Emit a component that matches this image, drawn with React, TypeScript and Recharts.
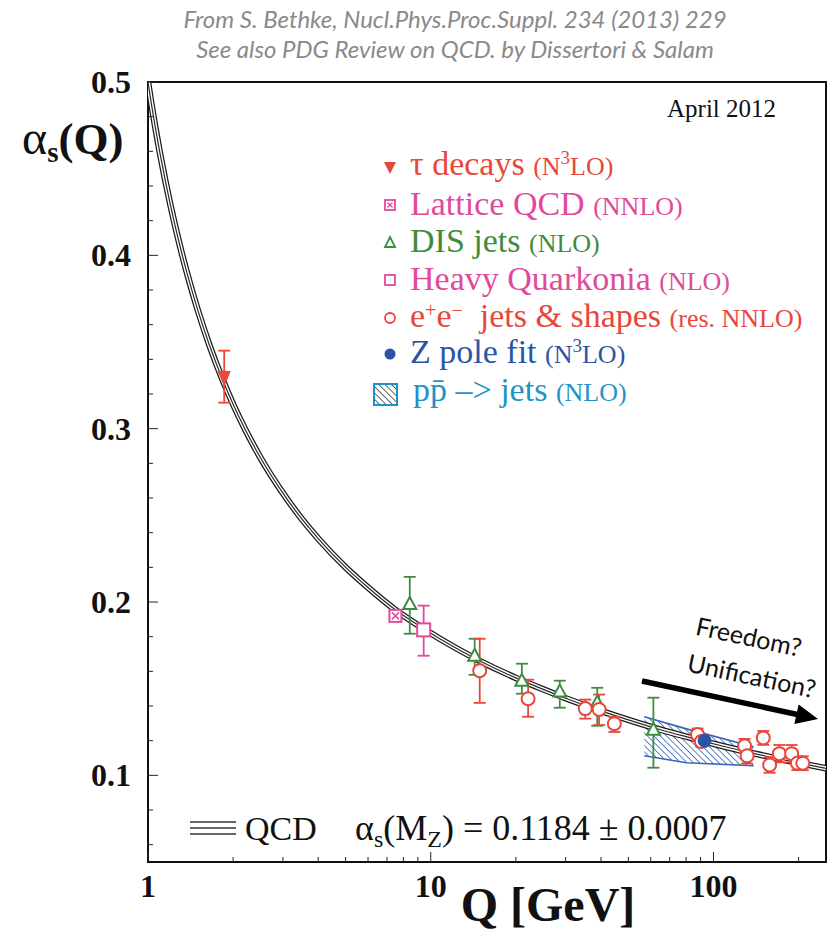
import React from 'react';
import { ComposedChart, Line, Scatter, Area, XAxis, YAxis, ErrorBar, ReferenceArea } from 'recharts';

// ---------- data ----------
const curveQ = [1.0, 1.03, 1.06, 1.1, 1.15, 1.2, 1.3, 1.4, 1.5, 1.65, 1.83, 2.0, 2.2, 2.5, 3, 3.5, 4, 5, 6, 7.5, 9.5, 12, 15, 20, 25, 30, 40, 50, 65, 80, 91, 110, 140, 180, 250];
const curveAlpha = [0.5, 0.4865, 0.4744, 0.4597, 0.4435, 0.4291, 0.4048, 0.385, 0.3684, 0.3481, 0.3288, 0.3141, 0.3, 0.2832, 0.2628, 0.2479, 0.2366, 0.22, 0.2084, 0.1955, 0.1843, 0.1743, 0.1658, 0.1562, 0.1496, 0.1445, 0.1372, 0.132, 0.1263, 0.1223, 0.1199, 0.1165, 0.1125, 0.1087, 0.104];

const tauQ = [1.86];
const tauA = [0.329];
const tauErr = [[0.014, 0.016]];

const latQ = [7.5];
const latA = [0.192];
const latErr = [[0.003, 0.003]];

const disQ = [8.43, 14.3, 21.0, 28.6, 38.8, 61.3];
const disA = [0.1989, 0.169, 0.1545, 0.1483, 0.142, 0.1263];
const disErr = [[0.0172, 0.0156], [0.011, 0.0098], [0.0074, 0.0099], [0.0093, 0.0063], [0.0134, 0.0085], [0.0219, 0.0185]];

const hqQ = [9.44];
const hqA = [0.1839];
const hqErr = [[0.0149, 0.014]];

const eeQ = [14.9, 22.1, 35.2, 39.4, 44.6, 87.8, 90.6, 128.8, 131.5, 150, 158, 171, 189, 198, 207];
const eeA = [0.1604, 0.1442, 0.1385, 0.138, 0.1298, 0.1235, 0.1195, 0.117, 0.1113, 0.1216, 0.106, 0.1125, 0.1125, 0.107, 0.107];
const eeErr = [[0.0186, 0.0184], [0.0104, 0.011], [0.0058, 0.0052], [0.009, 0.0086], [0.0048, 0.004], [0.0035, 0.0035], [0.003, 0.003], [0.004, 0.004], [0.0045, 0.0045], [0.004, 0.004], [0.0045, 0.0045], [0.005, 0.005], [0.005, 0.005], [0.004, 0.004], [0.004, 0.004]];

const zQ = [93];
const zA = [0.12];
const zErr = [[0.0008, 0.0008]];

const ppQ = [56.9, 80.2, 138.6];
const ppLow = [0.1113, 0.1073, 0.1055];
const ppHigh = [0.1338, 0.1268, 0.1165];

const xTicks = [1, 2, 3, 4, 5, 6, 7, 8, 9, 10, 20, 30, 40, 50, 60, 70, 80, 90, 100, 200];
const xMajor = [1, 10, 100];
const yTicks = [0.06, 0.08, 0.1, 0.12, 0.14, 0.16, 0.18, 0.2, 0.22, 0.24, 0.26, 0.28, 0.3, 0.32, 0.34, 0.36, 0.38, 0.4, 0.42, 0.44, 0.46, 0.48, 0.5];
const yMajor = [0.1, 0.2, 0.3, 0.4, 0.5];

// ---------- tables ----------
const curveData = curveQ.map((q, i) => ({ q, a: curveAlpha[i] }));
const mk = (qs: number[], as: number[], es: number[][]) => qs.map((q, i) => ({ q, a: as[i], err: es[i] }));
const tauData = mk(tauQ, tauA, tauErr);
const latData = mk(latQ, latA, latErr);
const disData = mk(disQ, disA, disErr);
const hqData = mk(hqQ, hqA, hqErr);
const eeData = mk(eeQ, eeA, eeErr);
const zData = mk(zQ, zA, zErr);
const ppData = ppQ.map((q, i) => ({ q, range: [ppLow[i], ppHigh[i]] }));

// ---------- style ----------
const W = 831, H = 934;
const PL = 148, PB = 862;
const RED = '#e8473b';
const PINK = '#e04a9b';
const GREEN = '#3f8c3f';
const BLUE = '#2a55a6';
const CYAN = '#1f93c8';
const HATCH = '#3466b8';
const SERIF = '"Liberation Serif", "Times New Roman", serif';
const SANS = 'Lato, sans-serif';

const serif = { fontFamily: SERIF };

const TauShape = (p: any) => (
  <polygon points={`${p.cx - 6},${p.cy - 7} ${p.cx + 6},${p.cy - 7} ${p.cx},${p.cy + 7}`} fill={RED} stroke={RED} strokeWidth={1} />
);
const LatShape = (p: any) => (
  <g>
    <rect x={p.cx - 6} y={p.cy - 6} width={12} height={12} fill="#fff" stroke={PINK} strokeWidth={2} />
    <line x1={p.cx - 3.5} y1={p.cy - 3.5} x2={p.cx + 3.5} y2={p.cy + 3.5} stroke={PINK} strokeWidth={1.5} />
    <line x1={p.cx + 3.5} y1={p.cy - 3.5} x2={p.cx - 3.5} y2={p.cy + 3.5} stroke={PINK} strokeWidth={1.5} />
  </g>
);
const DisShape = (p: any) => (
  <polygon points={`${p.cx},${p.cy - 7} ${p.cx + 6.5},${p.cy + 5} ${p.cx - 6.5},${p.cy + 5}`} fill="#fff" stroke={GREEN} strokeWidth={2} />
);
const HqShape = (p: any) => (
  <rect x={p.cx - 6.5} y={p.cy - 6.5} width={13} height={13} fill="#fff" stroke={PINK} strokeWidth={2} />
);
const EeShape = (p: any) => <circle cx={p.cx} cy={p.cy} r={6.5} fill="#fff" stroke={RED} strokeWidth={2} />;
const ZShape = (p: any) => <circle cx={p.cx} cy={p.cy} r={6.5} fill={BLUE} stroke={BLUE} strokeWidth={1} />;

const XTick = (p: any) => {
  const v = p.payload.value;
  const major = xMajor.includes(v);
  return (
    <g>
      <line x1={p.x} y1={PB} x2={p.x} y2={PB - (major ? 10 : 5)} stroke="#222" strokeWidth={1} />
      {major && (
        <text x={p.x} y={PB + 35} textAnchor="middle" style={serif} fontWeight="bold" fontSize={32} fill="#111">
          {String(v)}
        </text>
      )}
    </g>
  );
};
const YTick = (p: any) => {
  const v = p.payload.value;
  const major = yMajor.some((m) => Math.abs(m - v) < 1e-9);
  return (
    <g>
      <line x1={PL} y1={p.y} x2={PL + (major ? 10 : 5)} y2={p.y} stroke="#222" strokeWidth={1} />
      {major && (
        <text x={131} y={p.y + 11} textAnchor="end" style={serif} fontWeight="bold" fontSize={32} fill="#111">
          {v.toFixed(1)}
        </text>
      )}
    </g>
  );
};

// HTML legend row: baseline at y
const Row = ({ y, x = 410, color, children }: any) => (
  <div
    style={{
      position: 'absolute',
      left: x,
      top: y - 29.5,
      height: 36,
      lineHeight: '36px',
      fontFamily: SERIF,
      fontSize: 34,
      color,
      whiteSpace: 'nowrap',
    }}
  >
    {children}
  </div>
);
const Small = ({ children }: any) => <span style={{ fontSize: 26 }}>{children}</span>;
const Sup = ({ children, size = 19, up = 11 }: any) => (
  <span style={{ fontSize: size, position: 'relative', top: -up, lineHeight: 0 }}>{children}</span>
);

const Overlay = () => {
  const u = { x: 0.977, y: 0.213 };
  const tip = { x: 818, y: 719 };
  const base = { x: tip.x - 22 * u.x, y: tip.y - 22 * u.y };
  const pp = { x: -u.y, y: u.x };
  return (
    <svg width={W} height={H} style={{ position: 'absolute', left: 0, top: 0, pointerEvents: 'none' }}>
      {/* source lines */}
      <text x={455} y={28} textAnchor="middle" style={{ fontFamily: SANS }} fontStyle="italic" fontSize={24} fill="#8a8a8a">
        From S. Bethke, Nucl.Phys.Proc.Suppl. 234 (2013) 229
      </text>
      <text x={455} y={58} textAnchor="middle" style={{ fontFamily: SANS }} fontStyle="italic" fontSize={24} fill="#8a8a8a">
        See also PDG Review on QCD. by Dissertori &amp; Salam
      </text>
      {/* date */}
      <text x={667} y={117} style={serif} fontSize={25} fill="#111">April 2012</text>
      {/* y label */}
      <text x={22} y={154} style={serif} fill="#111">
        <tspan fontSize={48}>α</tspan>
        <tspan fontSize={29} fontWeight="bold" dy={8}>s</tspan>
        <tspan fontSize={45} fontWeight="bold" dy={-8}>(Q)</tspan>
      </text>
      {/* x label */}
      <text x={548} y={921} textAnchor="middle" style={serif} fontWeight="bold" fontSize={48} fill="#111">Q [GeV]</text>
      {/* legend markers */}
      <polygon points="384,162 396,162 390,174" fill={RED} />
      <rect x={385} y={200} width={10} height={10} fill="#fff" stroke={PINK} strokeWidth={1.8} />
      <line x1={387.5} y1={202.5} x2={392.5} y2={207.5} stroke={PINK} strokeWidth={1.3} />
      <line x1={392.5} y1={202.5} x2={387.5} y2={207.5} stroke={PINK} strokeWidth={1.3} />
      <polygon points="390,237 395,247 385,247" fill="#fff" stroke={GREEN} strokeWidth={1.8} />
      <rect x={385} y={275} width={10} height={10} fill="#fff" stroke={PINK} strokeWidth={1.8} />
      <circle cx={390} cy={318} r={5} fill="#fff" stroke={RED} strokeWidth={1.8} />
      <circle cx={390} cy={354} r={5.5} fill={BLUE} />
      <rect x={374} y={384} width={23} height={21} fill="url(#leghatch)" stroke={CYAN} strokeWidth={2} />
      {/* arrow + texts */}
      <line x1={642} y1={681} x2={base.x + 2 * u.x} y2={base.y + 2 * u.y} stroke="#000" strokeWidth={5.5} />
      <polygon
        points={`${tip.x},${tip.y} ${base.x + 10 * pp.x},${base.y + 10 * pp.y} ${base.x - 10 * pp.x},${base.y - 10 * pp.y}`}
        fill="#000"
      />
      <text x={749} y={636} textAnchor="middle" dominantBaseline="central" style={{ fontFamily: SANS }} fontSize={25} fill="#111" transform="rotate(12 749 636)">
        Freedom?
      </text>
      <text x={752} y={675} textAnchor="middle" dominantBaseline="central" style={{ fontFamily: SANS }} fontSize={25} fill="#111" transform="rotate(12 752 675)">
        Unification?
      </text>
      {/* QCD band legend */}
      <line x1={190} y1={822} x2={236} y2={822} stroke="#333" strokeWidth={1.3} />
      <line x1={190} y1={828} x2={236} y2={828} stroke="#333" strokeWidth={1.3} />
      <line x1={190} y1={834} x2={236} y2={834} stroke="#333" strokeWidth={1.3} />
    </svg>
  );
};

const HtmlText = () => (
  <>
    <Row y={175} color={RED}>
      τ decays <Small>(N<Sup>3</Sup>LO)</Small>
    </Row>
    <Row y={215} color={PINK}>
      Lattice QCD <Small>(NNLO)</Small>
    </Row>
    <Row y={252} color={GREEN}>
      DIS jets <Small>(NLO)</Small>
    </Row>
    <Row y={290} color={PINK}>
      Heavy Quarkonia <Small>(NLO)</Small>
    </Row>
    <Row y={327} color={RED}>
      e<Sup size={20} up={10}>+</Sup>e<Sup size={20} up={10}>−</Sup>{'\u00a0 jets & shapes '}<Small>(res. NNLO)</Small>
    </Row>
    <Row y={363} color={BLUE}>
      Z pole fit <Small>(N<Sup>3</Sup>LO)</Small>
    </Row>
    <Row y={401} x={413} color={CYAN}>
      {'pp\u0304 –> jets '}<Small>(NLO)</Small>
    </Row>
    <Row y={840} x={245} color="#111">
      QCD
    </Row>
    <div
      style={{
        position: 'absolute', left: 355, top: 840 - 31.3, height: 38, lineHeight: '38px',
        fontFamily: SERIF, fontSize: 36, color: '#111', whiteSpace: 'nowrap',
      }}
    >
      α<Sup size={24} up={-7}>s</Sup>(M<Sup size={24} up={-7}>Z</Sup>) = 0.1184 ± 0.0007
    </div>
  </>
);

export default function App() {
  return (
    <div style={{ position: 'absolute', left: 0, top: 0, width: W, height: H, background: '#fff', overflow: 'hidden' }}>
      <svg width={0} height={0} style={{ position: 'absolute' }}>
        <defs>
          <pattern id="pphatch" width={4.5} height={4.5} patternUnits="userSpaceOnUse" patternTransform="rotate(-45)">
            <rect width={4.5} height={4.5} fill="#fff" />
            <line x1={0} y1={0} x2={0} y2={4.5} stroke={HATCH} strokeWidth={1.6} />
          </pattern>
          <pattern id="leghatch" width={4.5} height={4.5} patternUnits="userSpaceOnUse" patternTransform="rotate(-45)">
            <rect width={4.5} height={4.5} fill="#fff" />
            <line x1={0} y1={0} x2={0} y2={4.5} stroke="#444" strokeWidth={1.6} />
          </pattern>
        </defs>
      </svg>
      <ComposedChart width={W} height={H} margin={{ top: 82, right: 5, bottom: 12, left: 48 }}>
        <XAxis
          dataKey="q"
          type="number"
          scale="log"
          domain={[1, 250]}
          allowDataOverflow
          ticks={xTicks}
          interval={0}
          tick={XTick}
          tickLine={false}
          axisLine={false}
          height={60}
        />
        <YAxis
          type="number"
          domain={[0.05, 0.5]}
          allowDataOverflow
          ticks={yTicks}
          interval={0}
          tick={YTick}
          tickLine={false}
          axisLine={false}
          width={100}
        />
        <Area data={ppData} dataKey="range" type="linear" stroke={HATCH} strokeWidth={1.6} fill="url(#pphatch)" fillOpacity={1} isAnimationActive={false} dot={false} activeDot={false} />
        <Line data={curveData} dataKey="a" type="monotone" stroke="#1a1a1a" strokeWidth={6.5} dot={false} activeDot={false} isAnimationActive={false} />
        <Line data={curveData} dataKey="a" type="monotone" stroke="#ffffff" strokeWidth={4} dot={false} activeDot={false} isAnimationActive={false} />
        <Line data={curveData} dataKey="a" type="monotone" stroke="#2a2a2a" strokeWidth={1.2} dot={false} activeDot={false} isAnimationActive={false} />
        <Scatter data={tauData} dataKey="a" shape={TauShape} isAnimationActive={false}>
          <ErrorBar dataKey="err" direction="y" width={6} stroke={RED} strokeWidth={1.8} />
        </Scatter>
        <Scatter data={latData} dataKey="a" shape={LatShape} isAnimationActive={false}>
          <ErrorBar dataKey="err" direction="y" width={6} stroke={PINK} strokeWidth={1.8} />
        </Scatter>
        <Scatter data={disData} dataKey="a" shape={DisShape} isAnimationActive={false}>
          <ErrorBar dataKey="err" direction="y" width={6} stroke={GREEN} strokeWidth={1.8} />
        </Scatter>
        <Scatter data={hqData} dataKey="a" shape={HqShape} isAnimationActive={false}>
          <ErrorBar dataKey="err" direction="y" width={6} stroke={PINK} strokeWidth={1.8} />
        </Scatter>
        <Scatter data={eeData} dataKey="a" shape={EeShape} isAnimationActive={false}>
          <ErrorBar dataKey="err" direction="y" width={6} stroke={RED} strokeWidth={1.8} />
        </Scatter>
        <Scatter data={zData} dataKey="a" shape={ZShape} isAnimationActive={false}>
          <ErrorBar dataKey="err" direction="y" width={6} stroke={BLUE} strokeWidth={1.8} />
        </Scatter>
        <ReferenceArea x1={1} x2={250} y1={0.05} y2={0.5} fill="none" fillOpacity={0} stroke="#111" strokeWidth={2} ifOverflow="visible" />
      </ComposedChart>
      <Overlay />
      <HtmlText />
    </div>
  );
}
